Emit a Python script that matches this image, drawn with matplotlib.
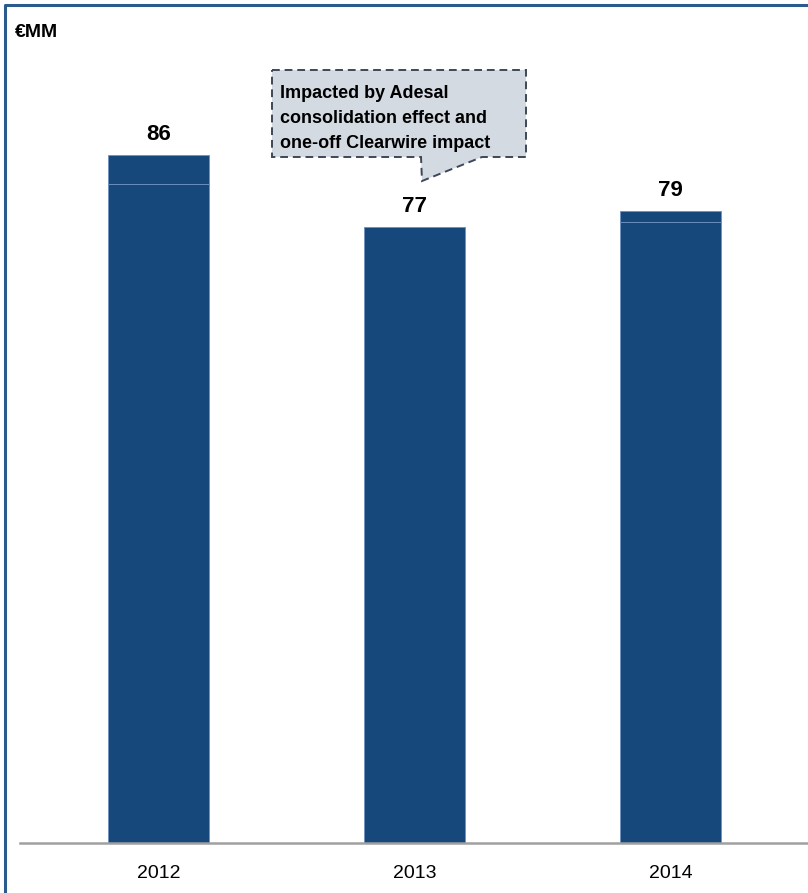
import matplotlib.pyplot as plt
from matplotlib.patches import Polygon
from matplotlib.lines import Line2D

years = ["2012", "2013", "2014"]
base_vals = [82.4, 77.0, 77.6]
top_vals = [3.6, 0.0, 1.4]
totals = [86, 77, 79]
note_lines = ["Impacted by Adesal", "consolidation effect and",
              "one-off Clearwire impact"]

bar_c = "#17487B"
split_c = "#6E93C0"
frame_c = "#2B5A8C"

plt.rcParams.update({"font.family": ["Liberation Sans", "DejaVu Sans"]})

W, H = 808, 893
fig = plt.figure(figsize=(W / 100, H / 100), dpi=100)

# axes: baseline at y=843 px, bars at 158.5/414.5/670.5 px, 8 px per unit
ax = fig.add_axes([20 / W, (H - 843) / H, 788 / W, 800 / H])
x = range(len(years))
ax.bar(x, base_vals, width=0.395, color=bar_c, edgecolor=split_c, linewidth=0.6)
ax.bar(x, top_vals, bottom=base_vals, width=0.395, color=bar_c,
       edgecolor=split_c, linewidth=0.6)
for i, t in enumerate(totals):
    ax.text(i, t + 1.9, str(t), ha="center", va="baseline", fontsize=16,
            fontweight="bold", color="black")

ax.set_xlim(-0.541, 2.537)
ax.set_ylim(0, 100)
for s in ["top", "right", "left"]:
    ax.spines[s].set_visible(False)
ax.spines["bottom"].set_color("#A0A0A0")
ax.spines["bottom"].set_linewidth(1.8)
ax.set_yticks([])
ax.set_xticks(list(x))
ax.set_xticklabels(years, fontsize=14)
ax.tick_params(axis="x", length=0, pad=16)

# outer frame (top and left edges visible)
fig.add_artist(Line2D([5 / W, 5 / W, 1.0], [0.0, 1 - 5 / H, 1 - 5 / H],
                      transform=fig.transFigure, color=frame_c, lw=2.2))

fig.text(15 / W, 1 - 37 / H, "€MM", fontsize=14, fontweight="bold",
         va="baseline", ha="left")

# callout bubble (pixel coords -> figure)
pts = [(272, 70), (526, 70), (526, 157), (482, 157), (422, 181),
       (421, 157), (272, 157)]
poly = Polygon([(px / W, 1 - py / H) for px, py in pts], closed=True,
               transform=fig.transFigure, facecolor="#D3DAE2",
               edgecolor="#3E4757", linewidth=1.4, linestyle=(0, (4, 2.5)))
fig.add_artist(poly)
for k, line in enumerate(note_lines):
    fig.text(280 / W, 1 - (98 + 25 * k) / H, line, fontsize=13,
             fontweight="bold", va="baseline", ha="left")

fig.savefig("out.png", dpi=100)
